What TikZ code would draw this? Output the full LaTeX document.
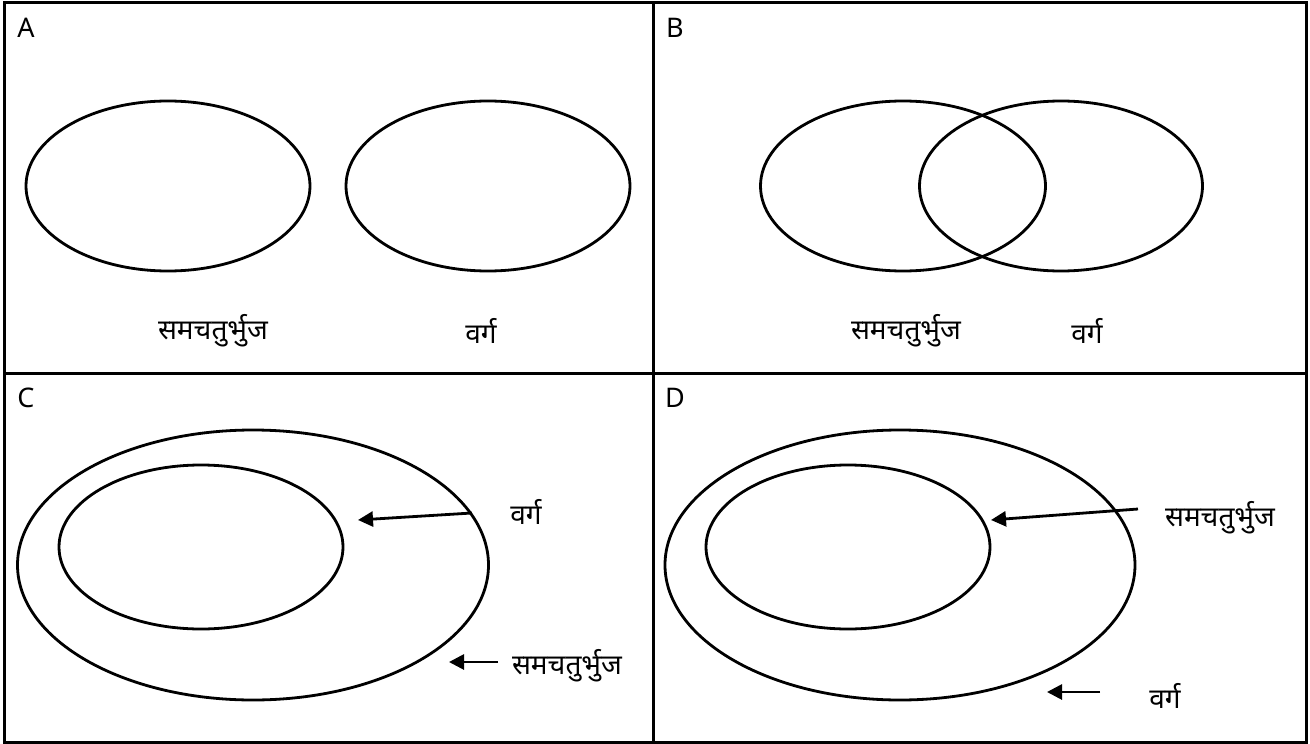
\documentclass[tikz,border=0pt]{standalone}
\usepackage{fontspec}
\setmainfont{Noto Sans}
\newfontfamily\hindi[Script=Devanagari]{Noto Sans}
\usepackage{tikz}
\usetikzlibrary{arrows.meta, shapes.geometric}

\begin{document}
\begin{tikzpicture}[x=1pt, y=-1pt,
    frame/.style={line width=3pt},
    venn/.style={draw, ellipse, line width=2.8pt, inner sep=0pt},
    tag/.style={font=\fontsize{27}{32}\selectfont, anchor=center},
    word/.style={font=\hindi\fontsize{28}{34}\selectfont, anchor=center},
    pointer/.style={line width=2.8pt, -{Triangle[length=15pt, width=15pt]}}]
        \useasboundingbox (0,0) rectangle (1310,744);
        \draw[frame] (4,2) rectangle (1306,742);
        \draw[frame] (653,2) -- (653,742);
        \draw[frame] (4,373) -- (1306,373);
        \node[tag] (labA) at (26,28) {A};
        \node[tag] (labB) at (675,28) {B};
        \node[tag] (labC) at (26,398) {C};
        \node[tag] (labD) at (675,398) {D};
        \node[venn, minimum width=284, minimum height=170] (rhoA) at (168,186) {};
        \node[venn, minimum width=284, minimum height=170] (sqA) at (488,186) {};
        \node[word] (rhoAtxt) at (213,331) {समचतुर्भुज};
        \node[word] (sqAtxt) at (481,331) {वर्ग};
        \node[venn, minimum width=285, minimum height=170] (rhoB) at (903,186) {};
        \node[venn, minimum width=283, minimum height=170] (sqB) at (1061,186) {};
        \node[word] (rhoBtxt) at (906,331) {समचतुर्भुज};
        \node[word] (sqBtxt) at (1087,331) {वर्ग};
        \node[venn, minimum width=471, minimum height=270] (rhoC) at (253,565) {};
        \node[venn, minimum width=284, minimum height=164] (sqC) at (201,547) {};
        \node[word] (sqCtxt) at (526,512) {वर्ग};
        \node[word] (rhoCtxt) at (567,666) {समचतुर्भुज};
        \coordinate (sqCfrom) at (472,513);
        \coordinate (sqCto) at (358,520);
        \coordinate (rhoCfrom) at (498,662);
        \coordinate (rhoCto) at (449,662);
        \draw[pointer] (sqCfrom) -- (sqCto);
        \draw[pointer] (rhoCfrom) -- (rhoCto);
        \node[venn, minimum width=470, minimum height=270] (sqD) at (900,565) {};
        \node[venn, minimum width=284, minimum height=164] (rhoD) at (848,547) {};
        \node[word] (rhoDtxt) at (1220,518) {समचतुर्भुज};
        \node[word] (sqDtxt) at (1165,696) {वर्ग};
        \coordinate (rhoDfrom) at (1138,509);
        \coordinate (rhoDto) at (991,520);
        \coordinate (sqDfrom) at (1100,692);
        \coordinate (sqDto) at (1047,692);
        \draw[pointer] (rhoDfrom) -- (rhoDto);
        \draw[pointer] (sqDfrom) -- (sqDto);
      \end{tikzpicture}
\end{document}
